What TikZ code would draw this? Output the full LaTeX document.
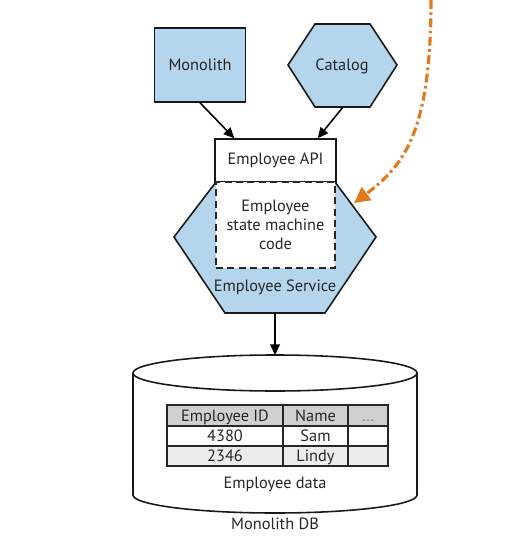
\documentclass[tikz,border=0pt]{standalone}
\usepackage{fontspec}
\setmainfont{PT Sans}
\usetikzlibrary{arrows.meta,positioning}
\definecolor{svcblue}{HTML}{B5D5EC}
\definecolor{migorange}{HTML}{E07A1F}
\definecolor{txtgray}{HTML}{262626}
\definecolor{hdrgray}{HTML}{D0D0D0}
\definecolor{rowgray}{HTML}{ECECEC}
\tikzset{
  lbl/.style={font=\fontsize{9.3}{10.8}\selectfont, text=txtgray, align=center, inner sep=1pt},
  cellt/.style={lbl, text height=1.6ex, text depth=0.3ex},
  arr/.style={-{Triangle[length=6pt,width=5.5pt]}, line width=0.9pt},
  outline/.style={draw=black!90, line width=0.9pt},
  tblline/.style={draw=black!85, line width=1.1pt}
}
\begin{document}
\begin{tikzpicture}[x=0.02cm,y=-0.02cm]
\useasboundingbox (0,0) rectangle (520,540);

% Monolith box
\node[outline, fill=svcblue, minimum width=1.82cm, minimum height=1.48cm, lbl] (monolith) at (200,65) {Monolith};

% Catalog hexagon
\filldraw[outline, fill=svcblue] (288,65) -- (315,24) -- (370,24) -- (397,65) -- (370,107) -- (315,107) -- cycle;
\node[lbl] (catalog) at (342,66) {Catalog};
\coordinate (catalogbot) at (343,107);

% Employee Service hexagon
\filldraw[outline, fill=svcblue] (216,182) -- (174,237) -- (225,313) -- (325,313) -- (376,237) -- (335,182) -- cycle;
\node[lbl] (empsvc) at (275,287) {Employee Service};
\coordinate (svcbot) at (275,313);
\coordinate (svcedge) at (354,203);

% API and state machine code
\node[outline, fill=white, minimum width=2.42cm, minimum height=0.86cm, lbl] (empapi) at (275.5,160.5) {Employee API};
\node[draw=black!85, line width=1.1pt, dash pattern=on 4pt off 2.5pt, fill=white,
      minimum width=2.38cm, minimum height=1.72cm, lbl, font=\fontsize{9.3}{11}\selectfont] (statecode) at (275.5,225) {Employee\\state machine\\code};

% Calls into the API
\draw[arr] (monolith.south) -- ([xshift=0.4cm]empapi.north west);
\draw[arr] (catalogbot) -- ([xshift=-0.38cm]empapi.north east);

% Migration path
\draw[migorange, line width=1.8pt, dash pattern=on 5pt off 2pt on 1.5pt off 2pt,
      -{Triangle[length=9pt,width=9pt]}] (431,0) .. controls (431,130) and (405,165) .. (svcedge);

% Monolith DB cylinder
\coordinate (dbtop) at (275,355);
\filldraw[outline, fill=white] (133,373) -- (133,495) arc[start angle=180, end angle=0, x radius=142, y radius=18] -- (417,373);
\filldraw[outline, fill=white] (275,373) ellipse[x radius=142, y radius=18];
\draw[arr] (svcbot) -- (dbtop);

% Employee table
\fill[hdrgray] (167,405) rectangle (388,426);
\fill[rowgray] (167,446) rectangle (388,466);
\draw[tblline] (167,405) rectangle (388,466);
\draw[tblline] (167,426) -- (388,426) (167,446) -- (388,446)
               (283,405) -- (283,466) (348,405) -- (348,466);
\node[cellt] (colid) at (225,415.5) {Employee ID};
\node[cellt] (colname) at (315.5,415.5) {Name};
\node[cellt, text=black!50] (colmore) at (368,415.5) {\dots};
\node[cellt] (id1) at (225,436) {4380};
\node[cellt] (name1) at (315.5,436) {Sam};
\node[cellt] (id2) at (225,456) {2346};
\node[cellt] (name2) at (315.5,456) {Lindy};

\node[lbl] (empdata) at (275,484) {Employee data};
\node[lbl] (monodb) at (275,524) {Monolith DB};
\end{tikzpicture}
\end{document}
